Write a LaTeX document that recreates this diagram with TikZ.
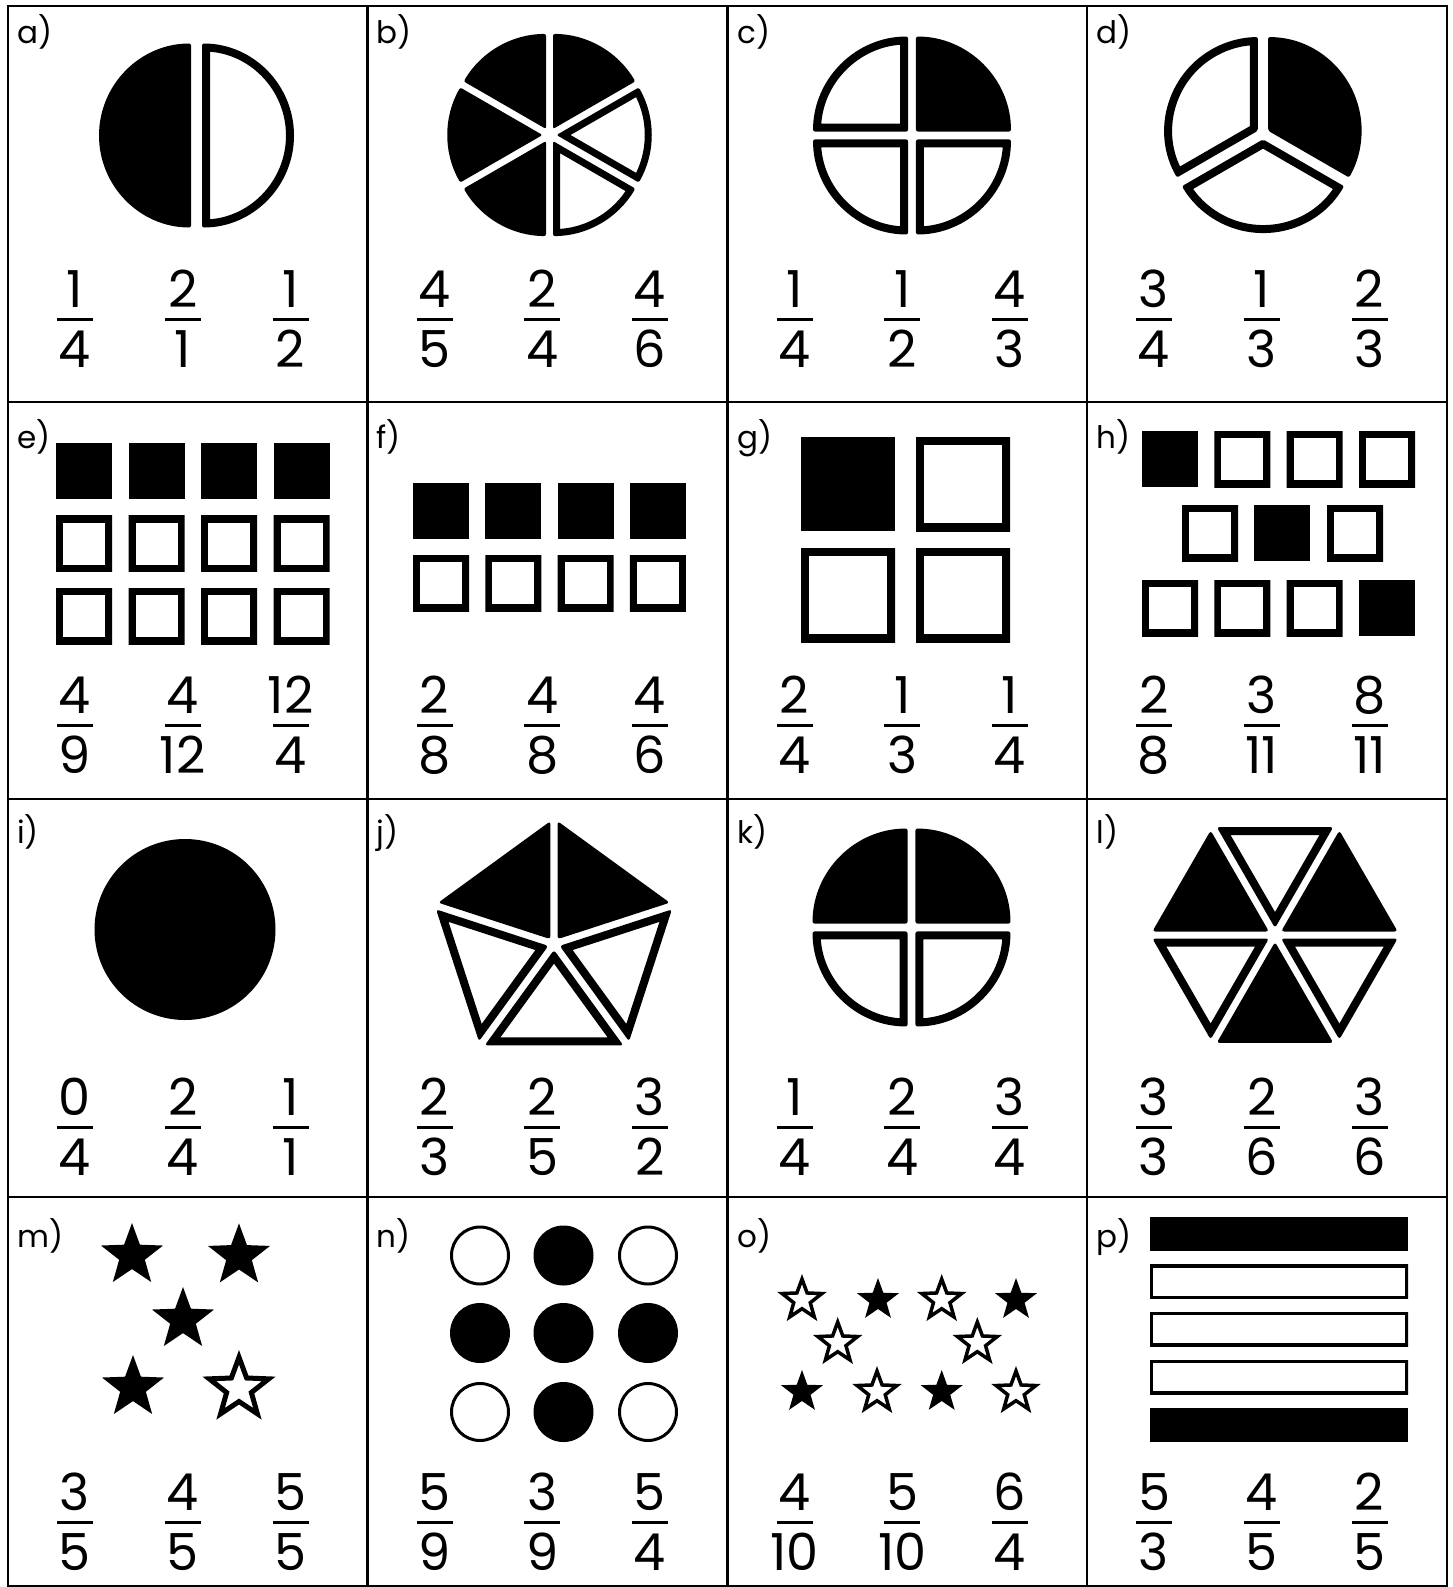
\documentclass[tikz,border=0pt]{standalone}
\usepackage{fontspec}
\setmainfont{Poppins}
\usetikzlibrary{calc}

% a piece with its outline drawn on the inside
\newcommand{\hollow}[2]{\begin{scope}\clip #2; \draw[line width=#1] #2;\end{scope}}
\newcommand{\solid}[1]{\fill #1;}
% slice of a disc: centre x, centre y, radius, from, to, push
\newcommand{\slicepath}[6]{(#1,#2) ++({(#4+#5)/2}:#6) [rounded corners=2pt] -- ++(#4:#3) arc[start angle=#4, end angle=#5, radius=#3] -- cycle}
% triangle of a polygon: centre x, centre y, radius, from, to, push
\newcommand{\tripath}[6]{(#1,#2) ++({(#4+#5)/2}:#6) [rounded corners=3pt] -- +(#4:#3) -- +(#5:#3) -- cycle}
% five point star: centre x, centre y, outer, inner
\newcommand{\starpath}[4]{(#1,#2) +(-90:#3) -- +(-54:#4) -- +(-18:#3) -- +(18:#4) -- +(54:#3) -- +(90:#4) -- +(126:#3) -- +(162:#4) -- +(198:#3) -- +(234:#4) -- cycle}
% three fractions under a picture: name, cell left, bar y, list
\newcommand{\fracrow}[4]{%
  \foreach \numr/\denr [count=\i] in {#4} {
    \pgfmathsetmacro{\fx}{#2+67+(\i-1)*107.75}
    \node[digit] (#1n\i) at (\fx,#3-12) {\numr};
    \node[digit] (#1d\i) at (\fx,#3+48) {\denr};
    \draw[fbar] (\fx-18,#3) -- (\fx+18,#3);
  }}

\begin{document}
\begin{tikzpicture}[x=1pt, y=-1pt,
    cellline/.style={line width=2.5pt},
    tag/.style={anchor=base west, inner sep=0pt, font=\fontsize{31}{34}\selectfont},
    digit/.style={anchor=base, inner sep=0pt, font=\fontsize{51}{51}\selectfont},
    fbar/.style={line width=3pt},
]
\useasboundingbox (0,0) rectangle (1453,1587);

% frame
\draw[cellline] (8,6) rectangle (1447,1586);
\foreach \x in {367.5,727.5,1087} {\draw[cellline] (\x,6) -- (\x,1586);}
\foreach \y in {402,799,1197} {\draw[cellline] (8,\y) -- (1447,\y);}

% letters
\foreach \t/\x/\y in {a/17/44, b/376.5/44, c/737/44, d/1096.5/44,
                      e/17/448, f/376.5/448, g/737/448, h/1096.5/448,
                      i/17/843, j/376.5/843, k/737/843, l/1096.5/843,
                      m/17/1247, n/376.5/1247, o/737/1247, p/1096.5/1247}
  {\node[tag] (lab-\t) at (\x,\y) {\t)};}

% a) halves
\solid{\slicepath{196.5}{135.5}{92}{90}{270}{5.5}}
\hollow{16pt}{\slicepath{196.5}{135.5}{92}{-90}{90}{5.5}}

% b) sixths
\foreach \a/\b in {-90/-30, 90/150, 150/210, 210/270}
  {\solid{\slicepath{549.5}{135}{95}{\a}{\b}{7}}}
\foreach \a/\b in {-30/30, 30/90}
  {\hollow{14pt}{\slicepath{549.5}{135}{95}{\a}{\b}{7}}}

% c) quarters
\solid{\slicepath{912}{135.5}{95}{-90}{0}{5.6}}
\foreach \a/\b in {0/90, 90/180, 180/270}
  {\hollow{16pt}{\slicepath{912}{135.5}{95}{\a}{\b}{5.6}}}

% d) thirds
\solid{\slicepath{1263}{133.6}{93.6}{-90}{30}{5.8}}
\foreach \a/\b in {30/150, 150/270}
  {\hollow{16pt}{\slicepath{1263}{133.6}{93.6}{\a}{\b}{5.8}}}

% e) twelve squares
\foreach \c in {0,...,3} {
  \solid{(56+72.5*\c,443) rectangle ++(56,56)}
  \foreach \r in {1,2}
    {\hollow{14pt}{(56+72.5*\c,443+72.5*\r) rectangle ++(56,56)}}
}

% f) eight squares
\foreach \c in {0,...,3} {
  \solid{(413+72.3*\c,483) rectangle ++(56,56)}
  \hollow{14pt}{(413+72.3*\c,555) rectangle ++(56,56)}
}

% g) four big squares
\solid{(801,437) rectangle ++(94,94)}
\foreach \x/\y in {916/437, 801/548, 916/548}
  {\hollow{16pt}{(\x,\y) rectangle ++(94,94)}}

% h) eleven squares
\solid{(1142,431) rectangle ++(56,56)}
\foreach \x in {1214.3,1286.6,1359} {\hollow{14pt}{(\x,431) rectangle ++(56,56)}}
\foreach \x in {1182,1327} {\hollow{14pt}{(\x,505) rectangle ++(56,56)}}
\solid{(1254,505) rectangle ++(56,56)}
\foreach \x in {1142,1214.3,1286.6} {\hollow{14pt}{(\x,580) rectangle ++(56,56)}}
\solid{(1359,580) rectangle ++(56,56)}

% i) whole
\fill (185,929.5) circle[radius=90.5];

% j) pentagon
\foreach \a/\b in {198/270, -90/-18}
  {\solid{\tripath{554}{944}{118}{\a}{\b}{6}}}
\foreach \a/\b in {-18/54, 54/126, 126/198}
  {\hollow{16pt}{\tripath{554}{944}{118}{\a}{\b}{6}}}

% k) quarters
\foreach \a/\b in {-90/0, 180/270}
  {\solid{\slicepath{911.5}{927.5}{95}{\a}{\b}{5.6}}}
\foreach \a/\b in {0/90, 90/180}
  {\hollow{16pt}{\slicepath{911.5}{927.5}{95}{\a}{\b}{5.6}}}

% l) hexagon
\foreach \a/\b in {180/240, 300/360, 60/120}
  {\solid{\tripath{1275}{935}{116.6}{\a}{\b}{7}}}
\foreach \a/\b in {240/300, 120/180, 0/60}
  {\hollow{16pt}{\tripath{1275}{935}{116.6}{\a}{\b}{7}}}

% m) five stars
\foreach \x/\y in {132/1255.6, 239/1256, 183/1319.6, 133/1387.6}
  {\solid{\starpath{\x}{\y}{32.6}{13.5}}}
\hollow{10pt}{\starpath{239}{1388.5}{38.5}{16}}

% n) nine dots
\foreach \x/\y in {563.5/1255.5, 480/1333, 563.5/1333, 648/1333, 563.5/1412}
  {\fill (\x,\y) circle[radius=30];}
\foreach \x/\y in {480/1255.5, 648/1255.5, 480/1412, 648/1412}
  {\draw[line width=3pt] (\x,\y) circle[radius=28.5];}

% o) ten stars
\foreach \x/\y in {878/1300, 1016/1300, 802/1392, 941.7/1392}
  {\solid{\starpath{\x}{\y}{22}{9}}}
\foreach \x/\y in {802/1300, 941.7/1300, 837.7/1343, 977.3/1343, 877/1392, 1016/1392}
  {\hollow{7pt}{\starpath{\x}{\y}{26}{10.8}}}

% p) five bars
\foreach \y in {1217,1408} {\solid{(1150,\y) rectangle ++(258,34)}}
\foreach \y in {1264.5,1312,1360} {\hollow{6pt}{(1150,\y) rectangle ++(258,34)}}

% fractions
\fracrow{a}{8}{319.5}{1/4,2/1,1/2}
\fracrow{b}{367.5}{319.5}{4/5,2/4,4/6}
\fracrow{c}{727.5}{319.5}{1/4,1/2,4/3}
\fracrow{d}{1087}{319.5}{3/4,1/3,2/3}
\fracrow{e}{8}{725}{4/9,4/12,12/4}
\fracrow{f}{367.5}{725}{2/8,4/8,4/6}
\fracrow{g}{727.5}{725}{2/4,1/3,1/4}
\fracrow{h}{1087}{725}{2/8,3/11,8/11}
\fracrow{i}{8}{1127}{0/4,2/4,1/1}
\fracrow{j}{367.5}{1127}{2/3,2/5,3/2}
\fracrow{k}{727.5}{1127}{1/4,2/4,3/4}
\fracrow{l}{1087}{1127}{3/3,2/6,3/6}
\fracrow{m}{8}{1522}{3/5,4/5,5/5}
\fracrow{n}{367.5}{1522}{5/9,3/9,5/4}
\fracrow{o}{727.5}{1522}{4/10,5/10,6/4}
\fracrow{p}{1087}{1522}{5/3,4/5,2/5}

\end{tikzpicture}
\end{document}
